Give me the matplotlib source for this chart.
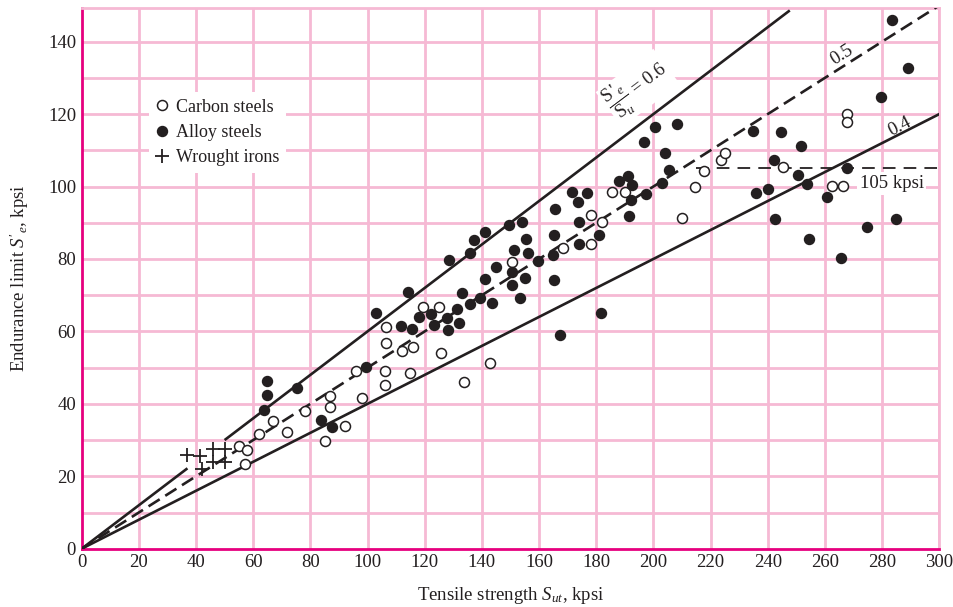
import matplotlib
matplotlib.use("Agg")
import matplotlib.pyplot as plt
import numpy as np

plt.rcParams['font.family'] = ['Liberation Serif', 'DejaVu Serif']
plt.rcParams['mathtext.fontset'] = 'custom'
plt.rcParams['mathtext.rm'] = 'Liberation Serif'
plt.rcParams['mathtext.it'] = 'Liberation Serif:italic'

# ---- data (kpsi) ----
carbon_x = [55, 58, 57, 62, 67, 72, 78, 87, 87, 85, 92, 96, 98, 106.4, 106.3, 106.1, 106.1,
            112, 116, 115, 119.5, 125.1, 125.7, 133.7, 142.8, 150.7, 168.5, 178, 178, 182,
            185.6, 190, 210, 214.5, 217.8, 223.5, 225, 245.2, 262.3, 266.2, 267.6, 267.6]
carbon_y = [28.4, 27.3, 23.4, 31.6, 35.4, 32.3, 38.1, 42.2, 39.2, 29.8, 34.0, 49.2, 41.5, 61.3, 56.9, 49.1, 45.2,
            54.7, 55.6, 48.6, 66.8, 66.7, 54.0, 46.1, 51.4, 79.1, 83.0, 92.0, 84.1, 90.3,
            98.6, 98.5, 91.3, 100.0, 104.4, 107.3, 109.2, 105.5, 100.2, 100.2, 120.0, 117.8]

alloy_x = [64.9, 64.9, 63.9, 75.2, 83.7, 87.7, 99.4, 102.9, 114.2, 111.6, 115.6, 118.0, 122.2, 123.3,
           127.9, 128.1, 131.2, 132.0, 128.5, 132.9, 135.8, 139.5, 143.5, 141.1, 144.8, 135.8, 137.2,
           141.1, 149.5, 153.9, 155.6, 151.3, 156.0, 150.7, 155.1, 150.6, 153.5, 159.6, 165.0, 165.2,
           165.6, 165.3, 167.3, 171.6, 176.8, 173.7, 174.1, 174.1, 181.0, 181.5, 188.0, 191.2, 192.4,
           192.0, 191.4, 197.3, 196.7, 200.5, 208.1, 204.0, 205.4, 202.9, 234.9, 235.9, 244.5, 251.6,
           242.2, 250.6, 253.8, 240.2, 260.6, 267.8, 279.6, 289.1, 283.5, 242.5, 254.4, 265.6, 274.6, 284.7]
alloy_y = [46.4, 42.4, 38.3, 44.3, 35.5, 33.5, 50.1, 65.0, 71.0, 61.5, 60.8, 63.9, 64.8, 61.9,
           63.7, 60.4, 66.1, 62.4, 79.7, 70.5, 67.5, 69.3, 67.8, 74.4, 77.7, 81.7, 85.3,
           87.5, 89.4, 90.1, 85.5, 82.5, 81.6, 76.5, 74.7, 72.7, 69.3, 79.4, 81.1, 86.5,
           93.8, 74.2, 59.0, 98.4, 98.2, 95.8, 90.3, 84.2, 86.7, 65.2, 101.5, 103.0, 100.4,
           96.3, 91.9, 98.0, 112.2, 116.4, 117.3, 109.2, 104.6, 101.1, 115.4, 98.1, 115.0, 111.3,
           107.2, 103.2, 100.6, 99.3, 97.2, 105.1, 124.8, 132.7, 146.0, 91.1, 85.5, 80.4, 88.9, 91.1]

iron_x = [37, 41.5, 46, 50, 42, 46, 50]
iron_y = [26, 25.5, 27.5, 27.5, 22, 24, 24]

ratios = [0.6, 0.5, 0.4]
limit_kpsi = 105

x_ticks = list(range(0, 301, 20))
y_ticks = list(range(0, 141, 20))

ink = '#231f20'
grid_c = '#f6b9d4'
spine_c = '#e6007e'

fig = plt.figure(figsize=(9.54, 6.07), dpi=100)
ax = fig.add_axes([0.0856, 0.0960, 0.8990, 0.8903])
ax.set_xlim(0, 300)
ax.set_ylim(0, 149.2)

# grid
for xv in range(20, 301, 20):
    ax.axvline(xv, color=grid_c, lw=2.0, zorder=0)
for yv in range(10, 150, 10):
    ax.axhline(yv, color=grid_c, lw=2.0, zorder=0)

for s in ['top', 'right']:
    ax.spines[s].set_color(grid_c)
    ax.spines[s].set_linewidth(2.0)
for s in ['left', 'bottom']:
    ax.spines[s].set_color(spine_c)
    ax.spines[s].set_linewidth(2.0)

ax.set_xticks(x_ticks)
ax.set_yticks(y_ticks)
ax.tick_params(length=0, labelsize=13.5, colors=ink, pad=4)

# ratio lines
r6, r5, r4 = ratios
xa = np.array([0, 37])
xb = np.array([50, 247.7])
ax.plot(xa, r6 * xa, color=ink, lw=1.9, zorder=3, solid_capstyle='butt')
ax.plot(xb, r6 * xb, color=ink, lw=1.9, zorder=3, solid_capstyle='butt')
xc = np.array([0, 300])
ax.plot(xc, r5 * xc, color=ink, lw=1.9, dashes=(5, 2.5), zorder=3)
ax.plot(xc, r4 * xc, color=ink, lw=1.9, zorder=3)
ax.plot([215, 300], [limit_kpsi, limit_kpsi], color=ink, lw=1.3, dashes=(7, 4.5), zorder=3)

# data
ax.plot(carbon_x, carbon_y, 'o', ms=7.2, mfc='white', mec=ink, mew=1.1, ls='none', zorder=4,
        label='Carbon steels')
ax.plot(alloy_x, alloy_y, 'o', ms=7.2, mfc=ink, mec=ink, mew=1.0, ls='none', zorder=4,
        label='Alloy steels')
ax.plot(iron_x, iron_y, '+', ms=10, mec=ink, mew=1.3, ls='none', zorder=4,
        label='Wrought irons')

# labels on lines
ax.text(194.5, 127.2, r"$\dfrac{\mathrm{S}\,'_{e}}{\mathrm{S}_{u}}$ = 0.6", rotation=37, fontsize=13.5,
        color=ink, ha='center', va='center', rotation_mode='anchor', zorder=5,
        bbox=dict(facecolor='white', edgecolor='none', pad=1.0))
ax.text(265.8, 136.3, '0.5', rotation=32, fontsize=13.5, color=ink, ha='center', va='center',
        rotation_mode='anchor', zorder=5)
ax.text(286.2, 116.5, '0.4', rotation=27, fontsize=13.5, color=ink, ha='center', va='center',
        rotation_mode='anchor', zorder=5)
ax.text(283.3, 100.9, '%d kpsi' % limit_kpsi, fontsize=13.5, color=ink, ha='center', va='center',
        zorder=5, bbox=dict(facecolor='white', edgecolor='none', pad=2))

leg = ax.legend(loc='upper left', bbox_to_anchor=(0.079, 0.846), borderaxespad=0,
                frameon=True, fancybox=False, framealpha=1, facecolor='white', edgecolor='none',
                fontsize=13, handlelength=0.6, handletextpad=0.45, labelspacing=0.45,
                borderpad=0.4, labelcolor=ink)
leg.set_zorder(6)

ax.set_xlabel(r"Tensile strength $S_{ut}$, kpsi", fontsize=13.5, color=ink, labelpad=10)
ax.set_ylabel(r"Endurance limit $S'_e$, kpsi", fontsize=13.5, color=ink, labelpad=12)

fig.savefig('out.png', dpi=100)
